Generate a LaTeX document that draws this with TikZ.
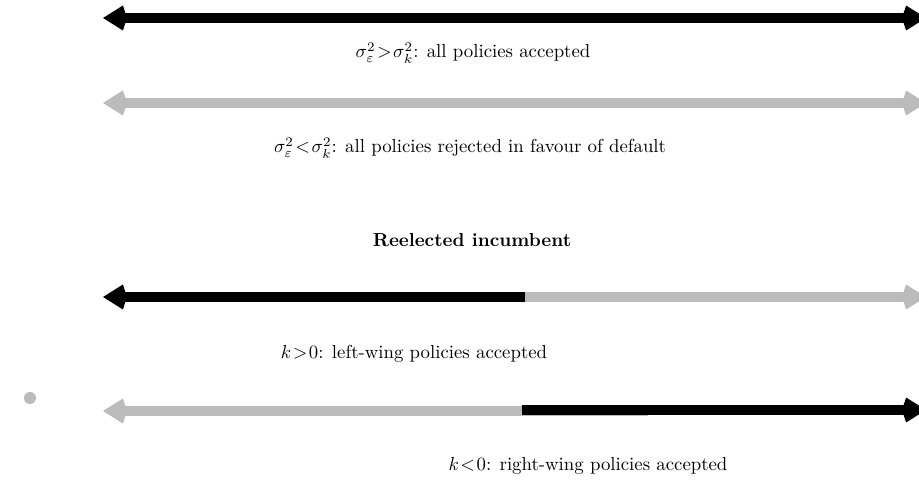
\documentclass[tikz,border=0pt]{standalone}
\usetikzlibrary{arrows.meta}
\definecolor{lgray}{RGB}{187,187,187}
\begin{document}
\begin{tikzpicture}[x=0.532pt,y=-0.532pt,
  bar/.style={line width=5.3pt},
  headL/.style={{Kite[length=12.8pt,width=13.3pt,inset=2.2pt]}-},
  headR/.style={-{Kite[length=12.8pt,width=13.3pt,inset=2.2pt]}},
  lbl/.style={inner sep=0pt,font=\normalsize}]
\thickmuskip=1.5mu
\useasboundingbox (0,0) rectangle (919,486);
% line 1
\coordinate (a1) at (103,18);
\coordinate (b1) at (926,18);
\draw[bar,black,headL] (a1) -- ++(40,0) coordinate (m1);
\draw[bar,black,headR] (m1) -- (b1);
\node[lbl] (t1) at (473,53) {$\sigma^2_\varepsilon > \sigma^2_k$: all policies accepted};
% line 2
\coordinate (a2) at (103,103);
\coordinate (b2) at (926,103);
\draw[bar,lgray,headL] (a2) -- ++(40,0) coordinate (m2);
\draw[bar,lgray,headR] (m2) -- (b2);
\node[lbl] (t2) at (470,148) {$\sigma^2_\varepsilon < \sigma^2_k$: all policies rejected in favour of default};
% heading
\node[lbl,font=\normalsize\bfseries] (h) at (472,240) {Reelected incumbent};
% line 3
\coordinate (a3) at (103,297);
\coordinate (c3) at (525,297);
\coordinate (b3) at (926,297);
\draw[bar,black,headL] (a3) -- (c3);
\draw[bar,lgray,headR] (c3) -- (b3);
\node[lbl] (t3) at (414,354) {$k>0$: left-wing policies accepted};
% dot
\node[circle,fill=lgray,minimum size=6.4pt,inner sep=0pt] (dot) at (30,398) {};
% line 4
\coordinate (a4) at (103,411);
\coordinate (g4) at (648,411);
\coordinate (c4) at (522,410);
\coordinate (b4) at (926,410);
\draw[bar,lgray,headL] (a4) -- (g4);
\draw[bar,black,headR] (c4) -- (b4);
\node[lbl] (t4) at (588,466) {$k<0$: right-wing policies accepted};
\end{tikzpicture}
\end{document}
